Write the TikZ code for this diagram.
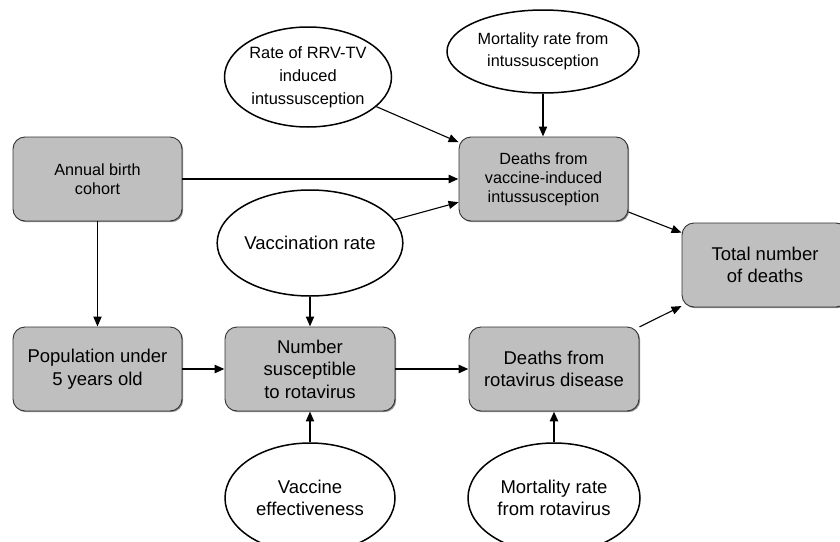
\documentclass[tikz,border=0pt]{standalone}
\usepackage{fontspec}
\setmainfont{Liberation Sans}
\usetikzlibrary{arrows.meta,shapes.geometric,shadows}

\tikzset{
  stockbox/.style={rectangle, rounded corners=12pt, draw=black!80, line width=0.9pt,
    fill=black!25, align=center, inner sep=2pt,
    drop shadow={shadow xshift=1.2pt, shadow yshift=-1.2pt, fill=black!45, opacity=1}},
  param/.style={ellipse, draw=black, line width=1.5pt, fill=white, align=center, inner sep=0pt},
  bigtext/.style={font=\fontsize{18.5}{22.5}\selectfont},
  smalltext/.style={font=\fontsize{16.2}{19}\selectfont},
  link/.style={-{Triangle[length=10pt,width=8pt]}, line width=1.1pt},
  linkmid/.style={link, line width=1.9pt},
  linkbold/.style={link, line width=2.7pt},
}

\begin{document}
\begin{tikzpicture}[x=1pt,y=-1pt]
\useasboundingbox (0,0) rectangle (840,541);

% flows (grey rounded boxes)
\node[stockbox, smalltext, minimum width=169pt, minimum height=84pt] (annual) at (97.5,179) {Annual birth\\cohort};
\node[stockbox, bigtext, minimum width=169pt, minimum height=84pt] (pop) at (97.5,369) {Population under\\5 years old};
\node[stockbox, bigtext, minimum width=170pt, minimum height=84pt] (numsus) at (310,369) {Number\\susceptible\\to rotavirus};
\node[stockbox, bigtext, minimum width=170pt, minimum height=84pt] (deathrot) at (554,369) {Deaths from\\rotavirus disease};
\node[stockbox, smalltext, minimum width=169pt, minimum height=84pt] (deathvac) at (543.5,179) {Deaths from\\vaccine-induced\\intussusception};
\node[stockbox, bigtext, minimum width=166pt, minimum height=84pt] (total) at (765,265) {Total number\\of deaths};

% parameters (white ellipses)
\node[param, font=\fontsize{16.4}{23}\selectfont, minimum width=167pt, minimum height=100pt] (rrv) at (308,77) {Rate of RRV-TV\\induced\\intussusception};
\node[param, font=\fontsize{16.2}{21.5}\selectfont, minimum width=192pt, minimum height=83pt] (mortint) at (543,51.5) {Mortality rate from\\intussusception};
\node[param, bigtext, minimum width=168pt, minimum height=106pt] (vacrate) at (310,243) {Vaccination rate};
\node[param, bigtext, minimum width=170pt, minimum height=110pt] (vaceff) at (310,498) {Vaccine\\effectiveness};
\node[param, bigtext, minimum width=172pt, minimum height=110pt] (mortrot) at (554,498) {Mortality rate\\from rotavirus};

% connectors
\draw[linkbold] (annual) -- (deathvac);
\draw[linkmid] (annual) -- (pop);
\draw[linkmid] (vacrate) -- (numsus);
\draw[link] (vacrate) -- (deathvac);
\draw[link] (rrv) -- (deathvac);
\draw[linkmid] (mortint) -- (deathvac.north -| mortint.south);
\draw[link] (deathvac) -- (total);
\draw[link] (deathrot) -- (total);
\draw[linkbold] (pop) -- (numsus);
\draw[linkbold] (numsus) -- (deathrot);
\draw[linkmid] (vaceff) -- (numsus);
\draw[linkbold] (mortrot) -- (deathrot);
\end{tikzpicture}
\end{document}
